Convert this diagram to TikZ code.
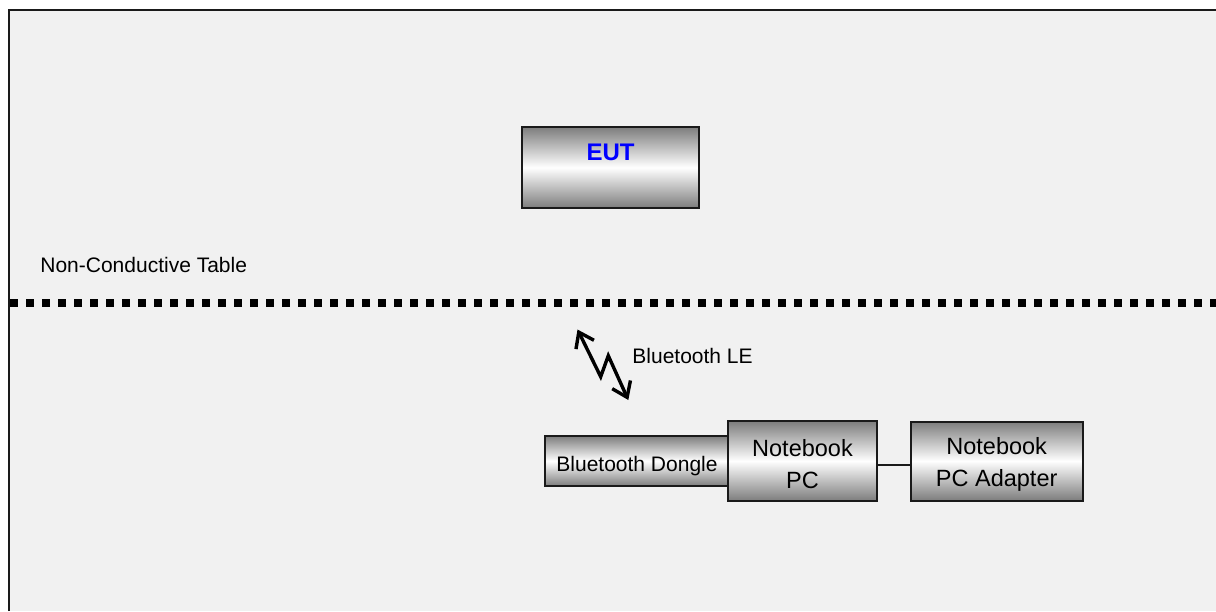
\documentclass[tikz,border=0pt]{standalone}
\usepackage{fontspec}
\setmainfont{Liberation Sans}
\usetikzlibrary{arrows.meta}
\definecolor{bggrey}{RGB}{241,241,241}
\definecolor{edgegrey}{RGB}{125,125,125}
\definecolor{framec}{RGB}{26,26,26}
\tikzset{
  devbox/.style={draw=framec, line width=1pt, inner sep=0pt, outer sep=0pt,
    top color=edgegrey, bottom color=edgegrey, middle color=white},
  devtxt/.style={font=\fontsize{11.75pt}{16pt}\selectfont, align=center, inner sep=0pt, text=black},
  smalltxt/.style={font=\fontsize{10.5pt}{13pt}\selectfont, inner sep=0pt, text=black},
  tableline/.style={line width=4pt, dash pattern=on 4pt off 4pt, line cap=butt},
  radio/.style={line width=1.7pt, {Straight Barb[length=7pt,width=10pt]}-{Straight Barb[length=7pt,width=10pt]}},
}
\begin{document}
\begin{tikzpicture}[x=0.5pt,y=-0.5pt]
\useasboundingbox (0,0) rectangle (1216,611);
\fill[white] (0,0) rectangle (1216,611);
\fill[bggrey] (9,10) rectangle (1216,611);
\draw[framec, line width=1pt] (9,611) -- (9,10) -- (1216,10);

% EUT
\node[devbox, line width=1.2pt, minimum width=88.5pt, minimum height=40.5pt] (eut) at (610.5,167.5) {};
\node[anchor=base, inner sep=0pt, text=blue, font=\fontsize{12pt}{14pt}\selectfont\bfseries] (euttxt) at (610.5,160) {EUT};

% table
\node[smalltxt, anchor=base west] (tabletxt) at (40,272.7) {Non-Conductive Table};
\coordinate (tl) at (10,303);
\coordinate (tr) at (1216,303);
\draw[tableline] (tl) -- (tr);

% radio link
\coordinate (r1) at (577.5,329.5);
\coordinate (r2) at (600.7,376.7);
\coordinate (r3) at (608.3,355.7);
\coordinate (r4) at (628.3,400);
\draw[radio] (r1) -- (r2) -- (r3) -- (r4);
\node[smalltxt, anchor=base west] (bletxt) at (632,363.3) {Bluetooth LE};

% devices
\node[devbox, minimum width=91.8pt, minimum height=25pt] (dongle) at (636.5,461) {};
\node[smalltxt, anchor=base] (dongletxt) at (637,471.7) {Bluetooth Dongle};
\node[devbox, minimum width=74.2pt, minimum height=39.8pt] (nbpc) at (802.5,461) {};
\node[devtxt] (nbpctxt) at ([yshift=-1.5pt]nbpc.center) {Notebook\\PC};
\node[devbox, minimum width=86pt, minimum height=39.5pt] (adapter) at (996.7,461) {};
\node[devtxt] (adaptertxt) at ([yshift=-1.5pt]adapter.center) {Notebook\\PC Adapter};
\draw[framec, line width=0.7pt] (nbpc.east |- 0,465) -- (adapter.west |- 0,465);
\end{tikzpicture}
\end{document}
